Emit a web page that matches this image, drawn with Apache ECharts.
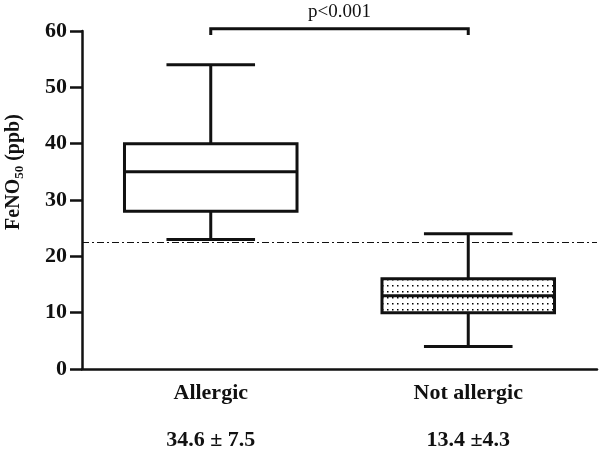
<!DOCTYPE html>
<html><head><meta charset="utf-8">
<script src="https://cdn.jsdelivr.net/npm/echarts@6/dist/echarts.min.js"></script>
<style>html,body{margin:0;padding:0;background:#fff}#c{width:600px;height:454px}</style>
</head><body><div id="c"></div>
<script>
const categories = ['Allergic', 'Not allergic'];
const stats = ['34.6 ± 7.5', '13.4 ±4.3'];
// [min, q1, median, q3, max]
const allergic = [23, 28, 35, 40, 54];
const notAllergic = [4, 10, 13, 16, 24];
const cutoff = 22.5;
const yTicks = [0, 60, 10];
const pText = 'p<0.001';
const bracketY = [60.4, 59.3, 63.4]; // bar level, end tick level, label level

const FONT = '"Liberation Serif", "Times New Roman", serif';

function makeDots() {
  const c = document.createElement('canvas');
  c.width = 5; c.height = 6;
  const g = c.getContext('2d');
  g.fillStyle = '#fff'; g.fillRect(0, 0, 5, 6);
  g.fillStyle = '#000'; g.fillRect(2, 3, 1.5, 1.5);
  return c;
}
const dotPattern = { image: makeDots(), repeat: 'repeat' };

const boxData = [[0].concat(allergic), [1].concat(notAllergic)];
const patterned = [false, true];

const chart = echarts.init(document.getElementById('c'));
chart.setOption({
  animation: false,
  grid: { left: 82, right: 3, top: 31, bottom: 85 },
  xAxis: {
    type: 'category', data: categories,
    axisLine: { lineStyle: { color: '#111', width: 2.5 } },
    axisTick: { show: false },
    axisLabel: {
      margin: 1,
      formatter: (v, i) => '{n|' + v + '}\n{s|' + stats[i] + '}',
      rich: {
        n: { fontFamily: FONT, fontWeight: 'bold', fontSize: 22, color: '#111', lineHeight: 47 },
        s: { fontFamily: FONT, fontWeight: 'bold', fontSize: 22, color: '#111', lineHeight: 47 }
      }
    }
  },
  yAxis: {
    type: 'value', min: yTicks[0], max: yTicks[1], interval: yTicks[2],
    axisLine: { show: true, lineStyle: { color: '#111', width: 2.5 } },
    axisTick: { show: true, length: 12, lineStyle: { color: '#111', width: 2.5 } },
    splitLine: { show: false },
    axisLabel: { margin: 15, fontFamily: FONT, fontWeight: 'bold', fontSize: 22, color: '#111' }
  },
  graphic: [{
    type: 'text', x: 14, y: 172, rotation: Math.PI / 2,
    style: {
      text: '{a|FeNO}{b|50}{a| (ppb)}',
      align: 'center', verticalAlign: 'middle',
      rich: {
        a: { fontFamily: FONT, fontWeight: 'bold', fontSize: 20, fill: '#111', lineHeight: 24 },
        b: { fontFamily: FONT, fontWeight: 'bold', fontSize: 13, fill: '#111', lineHeight: 24, verticalAlign: 'bottom' }
      }
    }
  }],
  series: [{
    type: 'custom',
    clip: false,
    data: boxData,
    renderItem: function (params, api) {
      const x = api.value(0);
      const band = api.size([1, 0])[0];
      const hw = band * 0.335, cw = band * 0.172;
      const c = api.coord([x, api.value(3)]);
      const cx = c[0];
      const yMin = api.coord([x, api.value(1)])[1];
      const yQ1 = api.coord([x, api.value(2)])[1];
      const yMed = c[1];
      const yQ3 = api.coord([x, api.value(4)])[1];
      const yMax = api.coord([x, api.value(5)])[1];
      const ls = { stroke: '#111', lineWidth: 3, fill: null };
      return {
        type: 'group',
        children: [
          { type: 'rect', shape: { x: cx - hw, y: yQ3, width: 2 * hw, height: yQ1 - yQ3 },
            style: { stroke: '#111', lineWidth: 3, fill: patterned[params.dataIndex] ? dotPattern : '#fff' } },
          { type: 'line', shape: { x1: cx - hw, y1: yMed, x2: cx + hw, y2: yMed }, style: ls },
          { type: 'line', shape: { x1: cx, y1: yQ3, x2: cx, y2: yMax }, style: ls },
          { type: 'line', shape: { x1: cx, y1: yQ1, x2: cx, y2: yMin }, style: ls },
          { type: 'line', shape: { x1: cx - cw, y1: yMax, x2: cx + cw, y2: yMax }, style: ls },
          { type: 'line', shape: { x1: cx - cw, y1: yMin, x2: cx + cw, y2: yMin }, style: ls }
        ]
      };
    },
    markLine: {
      silent: true, symbol: 'none', label: { show: false },
      lineStyle: { color: '#111', width: 1, type: [7, 3, 2, 3] },
      data: [{ yAxis: cutoff }]
    }
  }, {
    type: 'custom',
    clip: false,
    data: [[0, 1]],
    renderItem: function (params, api) {
      const a = api.coord([api.value(0), bracketY[0]]);
      const b = api.coord([api.value(1), bracketY[0]]);
      const yEnd = api.coord([0, bracketY[1]])[1];
      const yT = api.coord([0, bracketY[2]])[1];
      const ls = { stroke: '#111', lineWidth: 3, fill: null };
      return {
        type: 'group',
        children: [
          { type: 'polyline', shape: { points: [[a[0], yEnd], [a[0], a[1]], [b[0], b[1]], [b[0], yEnd]] }, style: ls },
          { type: 'text', x: (a[0] + b[0]) / 2, y: yT,
            style: { text: pText, fontFamily: FONT, fontSize: 19, fill: '#111', align: 'center', verticalAlign: 'middle' } }
        ]
      };
    }
  }]
});
</script></body></html>
